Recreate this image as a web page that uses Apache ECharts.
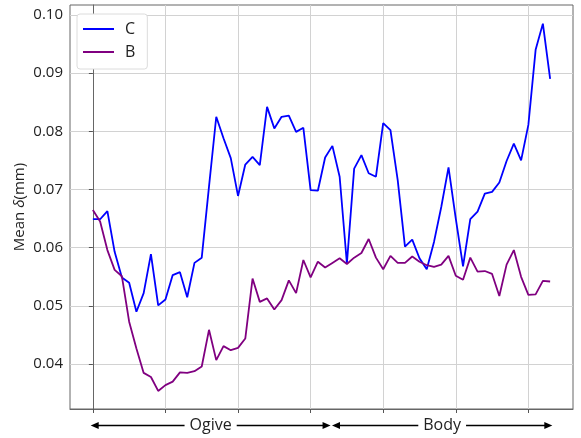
<!DOCTYPE html>
<html>
<head>
<meta charset="utf-8">
<script src="https://cdn.jsdelivr.net/npm/echarts@6/dist/echarts.min.js"></script>
<style>
  html, body { margin: 0; padding: 0; background: #fff; }
  #chart { width: 581px; height: 438px; }
</style>
</head>
<body>
<div id="chart"></div>
<script>
// Mean deviation per station, two configurations
const seriesC = [
  0.0649, 0.0649, 0.0663, 0.0593, 0.0549, 0.0540, 0.0490, 0.0522, 0.0589, 0.0501,
  0.0511, 0.0553, 0.0558, 0.0515, 0.0574, 0.0583, 0.0705, 0.0825, 0.0788, 0.0754,
  0.0689, 0.0743, 0.0756, 0.0742, 0.0842, 0.0805, 0.0825, 0.0827, 0.0799, 0.0806,
  0.0699, 0.0698, 0.0755, 0.0775, 0.0722, 0.0573, 0.0736, 0.0759, 0.0728, 0.0722,
  0.0814, 0.0802, 0.0716, 0.0602, 0.0614, 0.0582, 0.0563, 0.0610, 0.0670, 0.0738,
  0.0650, 0.0568, 0.0649, 0.0662, 0.0693, 0.0696, 0.0712, 0.0749, 0.0779, 0.0750,
  0.0811, 0.0940, 0.0985, 0.0890
];
const seriesB = [
  0.0665, 0.0645, 0.0596, 0.0562, 0.0551, 0.0473, 0.0427, 0.0385, 0.0378, 0.0354,
  0.0364, 0.0370, 0.0386, 0.0385, 0.0388, 0.0396, 0.0459, 0.0407, 0.0431, 0.0424,
  0.0428, 0.0444, 0.0547, 0.0507, 0.0513, 0.0494, 0.0510, 0.0544, 0.0522, 0.0579,
  0.0549, 0.0576, 0.0566, 0.0574, 0.0582, 0.0572, 0.0583, 0.0591, 0.0615, 0.0583,
  0.0563, 0.0586, 0.0574, 0.0574, 0.0585, 0.0576, 0.0570, 0.0567, 0.0571, 0.0586,
  0.0552, 0.0545, 0.0583, 0.0559, 0.0560, 0.0555, 0.0517, 0.0571, 0.0596, 0.0550,
  0.0519, 0.0520, 0.0543, 0.0542
];
const yTicks = [0.04, 0.05, 0.06, 0.07, 0.08, 0.09, 0.10];
const xTicks = [0, 10, 20, 30, 40, 50, 60];
const regions = [
  { name: 'Ogive', from: -0.3, to: 32.75 },
  { name: 'Body', from: 32.95, to: 63.3 }
];

const X_MIN = -3.15, X_MAX = 66.15;
const Y_MIN = 0.0323, Y_MAX = 0.1017;
const FONT = '"Open Sans", "DejaVu Sans", sans-serif';

const chart = echarts.init(document.getElementById('chart'), null, { renderer: 'canvas' });

const toPairs = arr => arr.map((v, i) => [i, v]);

chart.setOption({
  animation: false,
  backgroundColor: '#fff',
  grid: {
    left: 70, top: 5, width: 503, height: 404,
    show: true, borderColor: '#666', borderWidth: 1, backgroundColor: 'transparent'
  },
  legend: {
    left: 77, top: 14, orient: 'vertical',
    icon: 'rect',
    itemWidth: 31, itemHeight: 2, itemGap: 5,
    padding: [6, 12, 8, 6],
    borderColor: '#dcdcdc', borderWidth: 1, borderRadius: 3,
    backgroundColor: '#fff',
    textStyle: { fontSize: 16, color: '#222', fontFamily: FONT, padding: [0, 0, 0, 6], lineHeight: 18 },
    data: ['C', 'B']
  },
  xAxis: {
    type: 'value', min: X_MIN, max: X_MAX,
    axisLine: { show: true, lineStyle: { color: '#666', width: 1 } },
    axisTick: { show: true, customValues: xTicks, length: 4, lineStyle: { color: '#555' } },
    axisLabel: { show: false, customValues: xTicks },
    splitLine: { show: true, lineStyle: { color: '#d2d2d2', width: 1 } }
  },
  yAxis: {
    type: 'value', min: Y_MIN, max: Y_MAX,
    name: 'Mean {i|δ}(mm)',
    nameLocation: 'middle', nameGap: 43, nameMoveOverlap: false,
    nameTextStyle: {
      fontSize: 15, color: '#222', fontFamily: FONT,
      rich: { i: { fontStyle: 'italic', fontSize: 15, color: '#222', fontFamily: FONT } }
    },
    axisLine: { show: true, lineStyle: { color: '#666', width: 1 } },
    axisTick: { show: true, customValues: yTicks, length: 4, lineStyle: { color: '#555' } },
    axisLabel: {
      customValues: yTicks, fontSize: 15, color: '#222', fontFamily: FONT, margin: 7,
      formatter: v => v.toFixed(2)
    },
    splitLine: { show: true, lineStyle: { color: '#d2d2d2', width: 1 } }
  },
  series: [
    {
      name: 'C', type: 'line', data: toPairs(seriesC),
      symbol: 'none', lineStyle: { color: '#0000ff', width: 1.8 },
      itemStyle: { color: '#0000ff' }
    },
    {
      name: 'B', type: 'line', data: toPairs(seriesB),
      symbol: 'none', lineStyle: { color: '#800080', width: 1.8 },
      itemStyle: { color: '#800080' }
    }
  ]
});

// Section arrows under the x axis, placed in data units
const gridBottom = chart.convertToPixel({ gridIndex: 0 }, [0, Y_MIN])[1];
const ay = gridBottom + 16.5;
const graphics = [];
regions.forEach(r => {
  const x1 = chart.convertToPixel({ gridIndex: 0 }, [r.from, Y_MIN])[0];
  const x2 = chart.convertToPixel({ gridIndex: 0 }, [r.to, Y_MIN])[0];
  const head = 8, hw = 3.5;
  graphics.push({
    type: 'line', silent: true,
    shape: { x1: x1 + head - 1, y1: ay, x2: x2 - head + 1, y2: ay },
    style: { stroke: '#000', lineWidth: 1.4 }
  });
  graphics.push({
    type: 'polygon', silent: true,
    shape: { points: [[x1, ay], [x1 + head, ay - hw], [x1 + head, ay + hw]] },
    style: { fill: '#000' }
  });
  graphics.push({
    type: 'polygon', silent: true,
    shape: { points: [[x2, ay], [x2 - head, ay - hw], [x2 - head, ay + hw]] },
    style: { fill: '#000' }
  });
  graphics.push({
    type: 'text', silent: true, z: 10,
    style: {
      x: (x1 + x2) / 2, y: ay, text: r.name,
      align: 'center', verticalAlign: 'middle',
      font: '16px ' + FONT, fill: '#222',
      backgroundColor: '#fff', padding: [0, 5]
    }
  });
});
chart.setOption({ graphic: graphics });
</script>
</body>
</html>
